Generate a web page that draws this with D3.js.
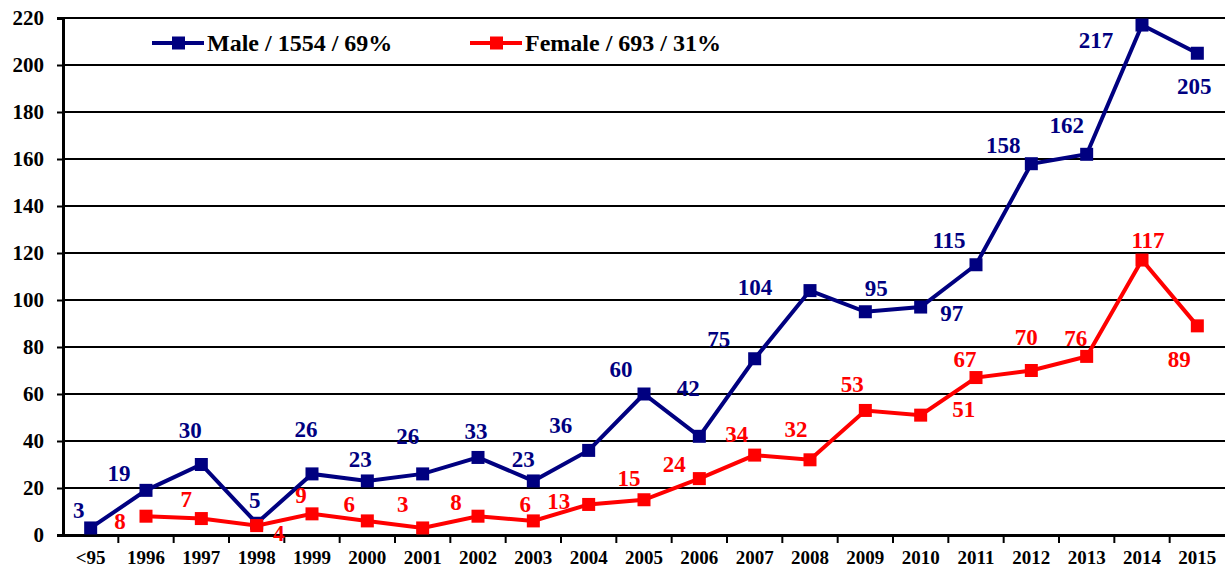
<!DOCTYPE html>
<html>
<head>
<meta charset="utf-8">
<script src="https://cdn.jsdelivr.net/npm/d3@7"></script>
<style>
  body { margin: 0; background: #fff; }
  text { font-family: "Liberation Serif", "Times New Roman", serif; font-weight: bold; }
</style>
</head>
<body>
<div class="chart"></div>
<script>
const years = ["<95", "1996", "1997", "1998", "1999", "2000", "2001", "2002", "2003", "2004",
  "2005", "2006", "2007", "2008", "2009", "2010", "2011", "2012", "2013", "2014", "2015"];
const male = [3, 19, 30, 5, 26, 23, 26, 33, 23, 36, 60, 42, 75, 104, 95, 97, 115, 158, 162, 217, 205];
const female = [null, 8, 7, 4, 9, 6, 3, 8, 6, 13, 15, 24, 34, 32, 53, 51, 67, 70, 76, 117, 89];
const yTicks = [0, 20, 40, 60, 80, 100, 120, 140, 160, 180, 200, 220];
const legendNames = ["Male / 1554 / 69%", "Female / 693 / 31%"];

// label offsets (px) from each point
const maleLabelOff = [[-12, -17], [-27, -17], [-11, -34], [-2, -23], [-6, -44], [-7, -21], [-15, -37],
  [-2, -26], [-10, -21], [-28, -25], [-23, -25], [-11, -48], [-36, -19], [-55, -3], [11, -23],
  [31, 6], [-27, -24], [-28, -18], [-20, -29], [-46, 15], [-3, 33]];
const femaleLabelOff = [null, [-26, 5], [-15, -19], [22, 8], [-11, -18], [-18, -16], [-20, -23],
  [-22, -14], [-8, -16], [-30, -3], [-15, -21], [-25, -14], [-18, -21], [-14, -30], [-13, -26],
  [43, -6], [-11, -18], [-5, -33], [-11, -18], [6, -20], [-18, 34]];

const margin = { top: 18, right: 0, bottom: 32, left: 63 },
  width = 1225 - margin.left - margin.right,
  height = 567 - margin.top - margin.bottom;

const svg = d3.select(".chart").append("svg")
  .attr("width", 1225).attr("height", 567)
  .append("g")
  .attr("transform", "translate(" + margin.left + "," + margin.top + ")");

const x = d3.scaleBand().domain(years).range([0, width]);
const y = d3.scaleLinear().domain([0, 220]).range([height, 0]);
const cx = d => x(d) + x.bandwidth() / 2;

// gridlines
svg.selectAll(".grid").data(yTicks.slice(1)).enter().append("line")
  .attr("x1", 0).attr("x2", width)
  .attr("y1", d => y(d)).attr("y2", d => y(d))
  .attr("stroke", "#000").attr("stroke-width", 2);

// y axis
const yAxis = svg.append("g").call(d3.axisLeft(y).tickValues(yTicks).tickSize(6).tickPadding(13));
yAxis.select(".domain").attr("stroke-width", 3);
yAxis.selectAll(".tick line").attr("stroke-width", 2);
yAxis.selectAll("text").attr("font-size", 21).attr("font-family", "Liberation Serif").attr("font-weight", "bold");

// x axis
const xAxis = svg.append("g").attr("transform", "translate(0," + height + ")")
  .call(d3.axisBottom(x).tickSize(0).tickPadding(16));
xAxis.select(".domain").attr("stroke-width", 3);
xAxis.selectAll("text").attr("font-size", 19).attr("font-family", "Liberation Serif").attr("font-weight", "bold");
svg.selectAll(".xtick").data(years.slice(1)).enter().append("line")
  .attr("x1", d => x(d)).attr("x2", d => x(d))
  .attr("y1", height).attr("y2", height + 8)
  .attr("stroke", "#000").attr("stroke-width", 2);

const series = [
  { name: legendNames[0], values: male, off: maleLabelOff, color: "#000080" },
  { name: legendNames[1], values: female, off: femaleLabelOff, color: "#ff0000" }
];

const line = d3.line()
  .x(d => cx(d.year)).y(d => y(d.v));

series.forEach(s => {
  const pts = years.map((yr, i) => ({ year: yr, v: s.values[i], off: s.off[i] }))
    .filter(d => d.v != null);
  svg.append("path").datum(pts)
    .attr("d", line).attr("fill", "none")
    .attr("stroke", s.color).attr("stroke-width", 4).attr("stroke-linejoin", "miter");
  svg.selectAll(null).data(pts).enter().append("rect")
    .attr("x", d => cx(d.year) - 6.5).attr("y", d => y(d.v) - 6.5)
    .attr("width", 13).attr("height", 13).attr("fill", s.color);
  svg.selectAll(null).data(pts).enter().append("text")
    .attr("x", d => cx(d.year) + d.off[0])
    .attr("y", d => y(d.v) + d.off[1])
    .attr("text-anchor", "middle").attr("dominant-baseline", "central")
    .attr("font-size", 23).attr("fill", s.color)
    .text(d => d.v);
});

// legend
const legendX = [152 - margin.left, 470 - margin.left];
series.forEach((s, i) => {
  const g = svg.append("g").attr("transform", "translate(" + legendX[i] + "," + (43 - margin.top) + ")");
  g.append("line").attr("x1", 0).attr("x2", 52).attr("stroke", s.color).attr("stroke-width", 4);
  g.append("rect").attr("x", 20).attr("y", -6.5).attr("width", 13).attr("height", 13).attr("fill", s.color);
  g.append("text").attr("x", 55).attr("y", 0).attr("dominant-baseline", "central")
    .attr("font-size", 24).attr("fill", "#000").text(s.name);
});
</script>
</body>
</html>
